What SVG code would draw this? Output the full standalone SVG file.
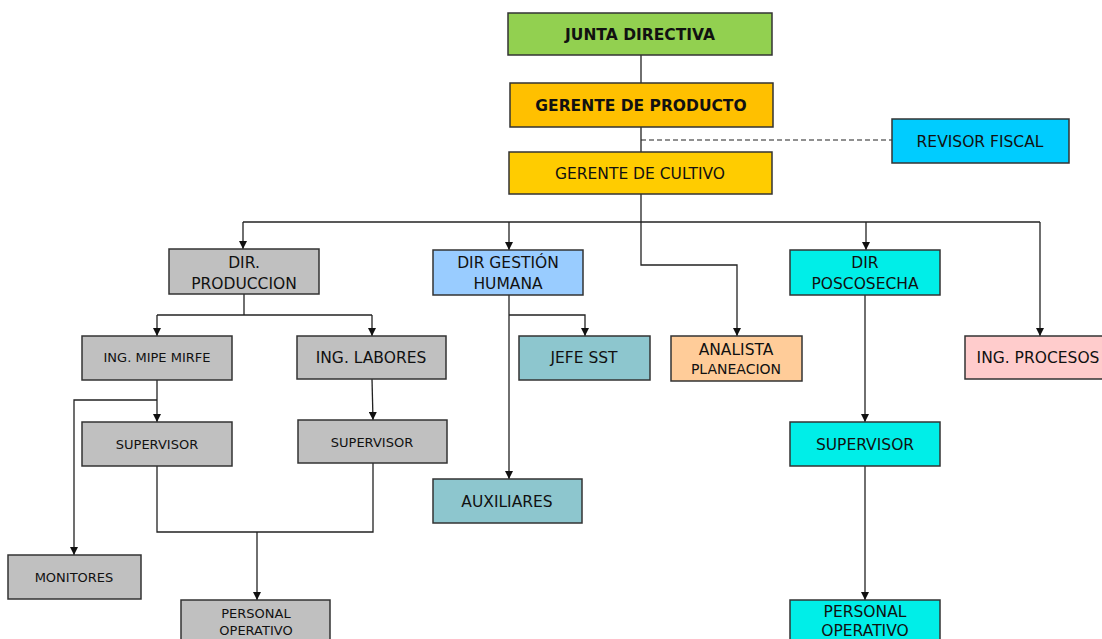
<svg xmlns="http://www.w3.org/2000/svg" width="1102" height="639" viewBox="0 0 1102 639">
<style>
.box{stroke:#333;stroke-width:1.5}
.t{font-family:"DejaVu Sans",Verdana,sans-serif;font-size:15.5px;fill:#111;text-anchor:middle}
.s{font-size:13px}
.m{font-size:14px}
.b{font-weight:bold;font-size:15.5px}
.c{fill:none;stroke:#222;stroke-width:1.3}
.d{fill:none;stroke:#222;stroke-width:1.2;stroke-dasharray:5 3}
</style>
<defs>
<marker id="ah" viewBox="0 0 10 10" refX="10" refY="5" markerWidth="8" markerHeight="8" markerUnits="userSpaceOnUse" orient="auto">
<path d="M0,0 L10,5 L0,10 z" fill="#111"/>
</marker>
</defs>
<rect width="1102" height="639" fill="#fff"/>
<g id="connectors">
<path class="c" d="M641,55 V83"/>
<path class="c" d="M641,127 V152"/>
<path class="d" d="M641,140 H892"/>
<path class="c" d="M641,194 V222"/>
<path class="c" d="M243,222 H1040"/>
<path class="c" d="M243,222 V249" marker-end="url(#ah)"/>
<path class="c" d="M509,222 V250" marker-end="url(#ah)"/>
<path class="c" d="M866,222 V250" marker-end="url(#ah)"/>
<path class="c" d="M1040,222 V336" marker-end="url(#ah)"/>
<path class="c" d="M641,222 V265 H737 V336" marker-end="url(#ah)"/>
<path class="c" d="M244,294 V315"/>
<path class="c" d="M157,315 H372"/>
<path class="c" d="M157,315 V336" marker-end="url(#ah)"/>
<path class="c" d="M372,315 V336" marker-end="url(#ah)"/>
<path class="c" d="M157,380 V422" marker-end="url(#ah)"/>
<path class="c" d="M157,400 H74 V555" marker-end="url(#ah)"/>
<path class="c" d="M372,379 L373,420" marker-end="url(#ah)"/>
<path class="c" d="M157,466 V532 H373 V463"/>
<path class="c" d="M257,532 V600" marker-end="url(#ah)"/>
<path class="c" d="M509,295 V479" marker-end="url(#ah)"/>
<path class="c" d="M509,315 H585 V336" marker-end="url(#ah)"/>
<path class="c" d="M865,295 V422" marker-end="url(#ah)"/>
<path class="c" d="M865,466 V600" marker-end="url(#ah)"/>
</g>
<g id="junta"><rect class="box" x="508" y="13" width="264" height="42" fill="#92D050"/><text class="t b" x="640" y="40">JUNTA DIRECTIVA</text></g>
<g id="gerente-producto"><rect class="box" x="510" y="83" width="263" height="44" fill="#FFC000"/><text class="t b" x="641" y="111">GERENTE DE PRODUCTO</text></g>
<g id="gerente-cultivo"><rect class="box" x="509" y="152" width="263" height="42" fill="#FFCC00"/><text class="t" x="640" y="179">GERENTE DE CULTIVO</text></g>
<g id="revisor"><rect class="box" x="892" y="119" width="177" height="44" fill="#00CCFF"/><text class="t" x="980" y="147">REVISOR FISCAL</text></g>
<g id="dir-produccion"><rect class="box" x="169" y="249" width="150" height="45" fill="#C0C0C0"/><text class="t" x="244" y="268">DIR.</text><text class="t" x="244" y="289">PRODUCCION</text></g>
<g id="dir-gestion"><rect class="box" x="433" y="250" width="150" height="45" fill="#99CCFF"/><text class="t" x="508" y="268">DIR GESTIÓN</text><text class="t" x="508" y="289">HUMANA</text></g>
<g id="dir-poscosecha"><rect class="box" x="790" y="250" width="150" height="45" fill="#00EEE8"/><text class="t" x="865" y="268">DIR</text><text class="t" x="865" y="289">POSCOSECHA</text></g>
<g id="analista"><rect class="box" x="671" y="336" width="131" height="45" fill="#FFCC99"/><text class="t" x="736" y="355">ANALISTA</text><text class="t m" x="736" y="374">PLANEACION</text></g>
<g id="ing-procesos"><rect class="box" x="965" y="336" width="145" height="43" fill="#FFCCCC"/><text class="t" x="1038" y="363">ING. PROCESOS</text></g>
<g id="ing-mipe"><rect class="box" x="82" y="336" width="150" height="44" fill="#C0C0C0"/><text class="t s" x="157" y="362">ING. MIPE MIRFE</text></g>
<g id="ing-labores"><rect class="box" x="297" y="336" width="149" height="43" fill="#C0C0C0"/><text class="t" x="371" y="363">ING. LABORES</text></g>
<g id="jefe-sst"><rect class="box" x="519" y="336" width="131" height="44" fill="#8DC6CE"/><text class="t" x="584" y="363">JEFE SST</text></g>
<g id="supervisor-1"><rect class="box" x="82" y="422" width="150" height="44" fill="#C0C0C0"/><text class="t s" x="157" y="449">SUPERVISOR</text></g>
<g id="supervisor-2"><rect class="box" x="298" y="420" width="149" height="43" fill="#C0C0C0"/><text class="t s" x="372" y="447">SUPERVISOR</text></g>
<g id="supervisor-3"><rect class="box" x="790" y="422" width="150" height="44" fill="#00EEE8"/><text class="t" x="865" y="450">SUPERVISOR</text></g>
<g id="auxiliares"><rect class="box" x="433" y="479" width="149" height="44" fill="#8DC6CE"/><text class="t" x="507" y="507">AUXILIARES</text></g>
<g id="monitores"><rect class="box" x="8" y="555" width="133" height="44" fill="#C0C0C0"/><text class="t s" x="74" y="582">MONITORES</text></g>
<g id="personal-1"><rect class="box" x="181" y="600" width="149" height="45" fill="#C0C0C0"/><text class="t s" x="256" y="618">PERSONAL</text><text class="t s" x="256" y="635">OPERATIVO</text></g>
<g id="personal-2"><rect class="box" x="790" y="600" width="150" height="45" fill="#00EEE8"/><text class="t" x="865" y="617">PERSONAL</text><text class="t" x="865" y="636">OPERATIVO</text></g>
</svg>
